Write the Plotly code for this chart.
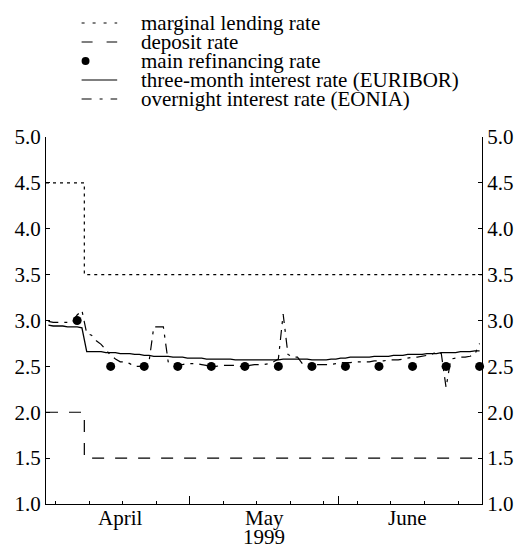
import plotly.graph_objects as go
import pandas as pd

# ---------------- data ----------------
days = pd.date_range("1999-04-01 12:00", "1999-06-30 12:00", freq="D")

eonia = [
    # April
    2.99, 2.98, 2.98, 2.98, 2.98, 2.98, 3.06, 3.11, 2.86, 2.84,
    2.78, 2.74, 2.68, 2.62, 2.58, 2.55, 2.55, 2.53, 2.50, 2.50,
    2.52, 2.55, 2.93, 2.93, 2.93, 2.55, 2.53, 2.52, 2.52, 2.53,
    # May
    2.53, 2.53, 2.52, 2.51, 2.50, 2.50, 2.51, 2.51, 2.51, 2.51,
    2.50, 2.50, 2.51, 2.52, 2.52, 2.52, 2.53, 2.55, 2.58, 3.07,
    2.63, 2.60, 2.60, 2.53, 2.52, 2.51, 2.52, 2.52, 2.52, 2.52, 2.53,
    # June
    2.54, 2.54, 2.54, 2.55, 2.55, 2.55, 2.55, 2.56, 2.56, 2.56,
    2.57, 2.57, 2.57, 2.58, 2.59, 2.60, 2.60, 2.61, 2.62, 2.63,
    2.66, 2.64, 2.27, 2.58, 2.59, 2.60, 2.60, 2.61, 2.63, 2.75,
]

euribor = [
    # April
    2.95, 2.94, 2.94, 2.94, 2.93, 2.93, 2.93, 2.92, 2.66, 2.66,
    2.66, 2.66, 2.65, 2.65, 2.65, 2.64, 2.64, 2.64, 2.63, 2.63,
    2.62, 2.62, 2.61, 2.61, 2.61, 2.61, 2.60, 2.60, 2.60, 2.59,
    # May
    2.59, 2.59, 2.59, 2.58, 2.58, 2.58, 2.58, 2.58, 2.58, 2.57,
    2.57, 2.57, 2.57, 2.57, 2.57, 2.57, 2.57, 2.57, 2.57, 2.58,
    2.58, 2.58, 2.58, 2.58, 2.58, 2.57, 2.57, 2.57, 2.57, 2.58, 2.58,
    # June
    2.59, 2.59, 2.60, 2.60, 2.60, 2.60, 2.60, 2.61, 2.61, 2.61,
    2.61, 2.62, 2.62, 2.62, 2.63, 2.63, 2.63, 2.63, 2.64, 2.64,
    2.64, 2.65, 2.65, 2.65, 2.65, 2.66, 2.66, 2.66, 2.67, 2.67,
]

policy_dates = ["1999-04-01", "1999-04-09", "1999-07-01"]
marginal = [4.5, 3.5, 3.5]
deposit = [2.0, 1.5, 1.5]

refi_dates = ["1999-04-07 12:00", "1999-04-14 12:00", "1999-04-21 12:00",
              "1999-04-28 12:00", "1999-05-05 12:00", "1999-05-12 12:00",
              "1999-05-19 12:00", "1999-05-26 12:00", "1999-06-02 12:00",
              "1999-06-09 12:00", "1999-06-16 12:00", "1999-06-23 12:00",
              "1999-06-30 12:00"]
refi = [3.0, 2.5, 2.5, 2.5, 2.5, 2.5, 2.5, 2.5, 2.5, 2.5, 2.5, 2.5, 2.5]

week_ticks = ["1999-04-03", "1999-04-10", "1999-04-17", "1999-04-24",
              "1999-05-01", "1999-05-08", "1999-05-15", "1999-05-22",
              "1999-05-29", "1999-06-05", "1999-06-12", "1999-06-19",
              "1999-06-26"]
month_ticks = ["1999-05-01", "1999-06-01"]
month_label_pos = ["1999-04-16 12:00", "1999-05-16 12:00", "1999-06-15 12:00"]
month_labels = ["April", "May", "June"]
year_label = "1999"
y_ticks = [1.0, 1.5, 2.0, 2.5, 3.0, 3.5, 4.0, 4.5, 5.0]

legend_names = ["marginal lending rate", "deposit rate", "main refinancing rate",
                "three-month interest rate (EURIBOR)",
                "overnight interest rate (EONIA)"]

# ---------------- figure ----------------
FONT = "Liberation Serif"
BLACK = "#000000"
LW = 1.2
FS = 21

fig = go.Figure()

fig.add_trace(go.Scatter(x=policy_dates, y=marginal, mode="lines", line_shape="hv",
                         line=dict(color=BLACK, width=LW, dash="3px,4px"),
                         name=legend_names[0], showlegend=False))
fig.add_trace(go.Scatter(x=policy_dates, y=deposit, mode="lines", line_shape="hv",
                         line=dict(color=BLACK, width=LW, dash="12px,11px"),
                         name=legend_names[1], showlegend=False))
fig.add_trace(go.Scatter(x=list(days), y=euribor, mode="lines",
                         line=dict(color=BLACK, width=1.3),
                         name=legend_names[3], showlegend=False))
fig.add_trace(go.Scatter(x=list(days), y=eonia, mode="lines",
                         line=dict(color=BLACK, width=LW, dash="10px,6px,3px,6px"),
                         name=legend_names[4], showlegend=False))
fig.add_trace(go.Scatter(x=refi_dates, y=refi, mode="markers",
                         marker=dict(color=BLACK, size=9),
                         cliponaxis=False,
                         name=legend_names[2], showlegend=False))
# right-hand axis companion (invisible)
fig.add_trace(go.Scatter(x=refi_dates, y=refi, mode="markers", yaxis="y2",
                         marker=dict(opacity=0), hoverinfo="skip", showlegend=False))

# ---- custom legend (shapes + text) ----
W, H = 526, 547
ML, MR, MT, MB = 46, 39, 137, 43
PW, PH = W - ML - MR, H - MT - MB


def px_x(px):
    return (px - ML) / PW


def px_y(py):
    return (H - MB - py) / PH


rows = [23, 42, 61, 80, 99]
sample_dash = ["3px,8px", "11px,14px", None, "solid", "10px,8px,3px,8px"]
for i, name in enumerate(legend_names):
    yy = px_y(rows[i])
    if sample_dash[i] is None:
        fig.add_shape(type="circle", xref="paper", yref="paper",
                      x0=px_x(82), x1=px_x(90), y0=px_y(rows[i] + 4), y1=px_y(rows[i] - 4),
                      fillcolor=BLACK, line=dict(color=BLACK, width=0))
    else:
        fig.add_shape(type="line", xref="paper", yref="paper",
                      x0=px_x(82), x1=px_x(118), y0=yy, y1=yy,
                      line=dict(color=BLACK, width=LW, dash=sample_dash[i]))
    fig.add_annotation(text=name, xref="paper", yref="paper", x=px_x(141), y=yy,
                       xanchor="left", yanchor="middle", showarrow=False, borderpad=0,
                       font=dict(family=FONT, size=FS, color=BLACK))

# month labels and year
for pos, lab in zip(month_label_pos, month_labels):
    fig.add_annotation(text=lab, xref="x", yref="paper", x=pos, y=0, yshift=-1,
                       xanchor="center", yanchor="top", showarrow=False, borderpad=0,
                       font=dict(family=FONT, size=FS, color=BLACK))
fig.add_annotation(text=year_label, xref="x", yref="paper", x=month_label_pos[1], y=0,
                   yshift=-20, xanchor="center", yanchor="top", showarrow=False,
                   borderpad=0, font=dict(family=FONT, size=FS, color=BLACK))

yaxis_common = dict(range=[1.0, 5.0], tickvals=y_ticks, tickformat=".1f",
                    ticks="inside", ticklen=4, tickwidth=1, tickcolor=BLACK,
                    showline=True, linecolor=BLACK, linewidth=1.2,
                    showgrid=False, zeroline=False,
                    tickfont=dict(family=FONT, size=FS, color=BLACK))

fig.update_layout(
    width=W, height=H,
    margin=dict(l=ML, r=MR, t=MT, b=MB, pad=0),
    paper_bgcolor="white", plot_bgcolor="white",
    showlegend=False,
    font=dict(family=FONT, size=FS, color=BLACK),
    xaxis=dict(type="date", range=["1999-04-01", "1999-07-01"],
               tickvals=month_ticks, ticks="inside", ticklen=8, tickwidth=1,
               tickcolor=BLACK, showticklabels=False,
               minor=dict(tickvals=week_ticks, ticks="inside", ticklen=3,
                          tickwidth=1, tickcolor=BLACK, showgrid=False),
               showline=True, linecolor=BLACK, linewidth=1.2,
               showgrid=False, zeroline=False),
    yaxis=dict(side="left", **yaxis_common),
    yaxis2=dict(side="right", overlaying="y", anchor="x", **yaxis_common),
)

fig.write_html("out.html", config={"displayModeBar": False},
               post_script="document.body.style.margin='0px';document.body.style.overflow='hidden';")
